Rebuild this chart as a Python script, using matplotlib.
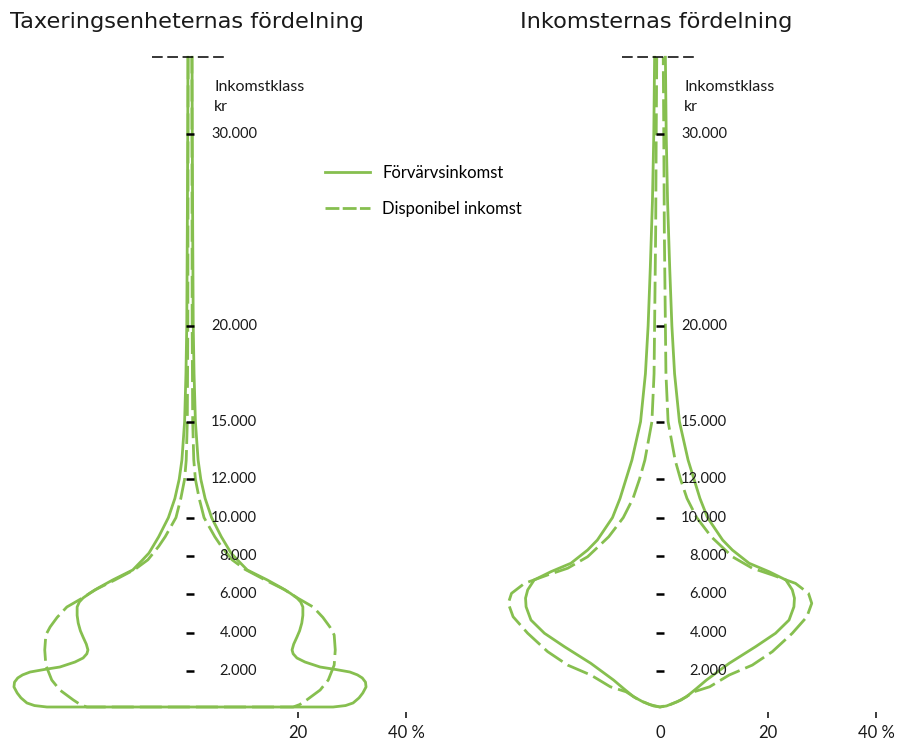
import matplotlib.pyplot as plt
from matplotlib.lines import Line2D

plt.rcParams['font.family'] = ['Lato', 'DejaVu Sans']

# Bildens mått i pixlar och skalor (uppmätta ur förlagan)
W, H = 908, 741
PX_PER_PCT = 5.4          # px per procentenhet
PX_PER_KR = 19.18 / 1000  # px per krona
ZERO_Y = 709.4            # 0 kr, px från överkanten
CENTERS = [190, 660]      # mittlinjer i px
GREEN = '#86bf4f'
INK = '#1a1a1a'

TITLES = ['Taxeringsenheternas fördelning', 'Inkomsternas fördelning']
TITLE_X = [10, 520]

INCOME_TICKS = [2000, 4000, 6000, 8000, 10000, 12000, 15000, 20000, 30000]
INCOME_LABELS = ['2.000', '4.000', '6.000', '8.000', '10.000', '12.000',
                 '15.000', '20.000', '30.000']
TOP_KR = 34000  # öppen övre klass

# Taxeringsenheternas fördelning: halva bredden i procent
tax_kr_forv = [125, 125, 200, 335, 600, 855, 1170, 1420, 1640, 1800, 1950,
               2080, 2210, 2470, 2680, 2900, 3100, 3400, 3770, 4100, 4500,
               4900, 5340, 5600, 5810, 6050, 6330, 6750, 7270, 7790, 8150,
               9000, 10000, 11000, 12000, 13000, 15000, 17500, 20000, 25000,
               30000, 34000]
tax_pct_forv = [0, 26.5, 28.8, 30.2, 31.3, 32.0, 32.6, 32.5, 31.9, 31.0, 29.6,
                27.0, 24.1, 21.3, 19.8, 19.1, 18.9, 19.2, 19.8, 20.3, 20.7,
                20.9, 20.9, 20.5, 19.8, 18.6, 17.0, 14.3, 10.6, 8.8, 7.6,
                5.8, 4.0, 2.8, 2.0, 1.5, 1.0, 0.75, 0.6, 0.5,
                0.42, 0.38]
tax_kr_disp = [125, 125, 250, 490, 1010, 1530, 2310, 3100, 3880, 4300, 4800,
               5340, 5810, 6230, 6750, 7300, 7800, 8500, 9000, 10000, 11000,
               12000, 13000, 15000, 20000, 25000, 30000, 34000]
tax_pct_disp = [0, 19.1, 20.3, 21.6, 24.1, 25.6, 26.7, 26.9, 26.7, 25.9, 24.6,
                22.8, 19.9, 17.6, 13.9, 10.2, 7.8, 5.8, 4.6, 2.6, 1.7,
                1.0, 0.7, 0.5, 0.4, 0.38, 0.36, 0.35]

# Inkomsternas fördelning
inc_kr_forv = [125, 180, 400, 660, 1100, 1530, 2400, 3270, 3970, 4660, 5350,
               5800, 6230, 6750, 7180, 7620, 8310, 8830, 10000, 11000, 12000,
               13000, 15000, 17500, 20000, 23000, 26500, 30000, 34000]
inc_pct_forv = [0, 1.2, 3.2, 4.9, 6.8, 8.6, 12.8, 17.7, 21.4, 23.9, 24.8,
                24.9, 24.5, 23.3, 20.2, 16.5, 13.4, 11.6, 8.8, 7.4, 6.3,
                5.2, 3.6, 2.7, 2.2, 1.8, 1.4, 1.15, 1.0]
inc_kr_disp = [125, 250, 490, 920, 1180, 1790, 2310, 3010, 3970, 4830, 5530,
               6050, 6570, 7010, 7360, 7960, 9000, 10000, 11000, 12000, 13000,
               15000, 17500, 20000, 25000, 30000, 34000]
inc_pct_disp = [0, 1.9, 3.9, 6.3, 9.2, 12.8, 17.1, 20.8, 24.5, 27.2, 28.1,
                27.5, 25.1, 20.8, 17.1, 13.4, 9.5, 6.8, 5.0, 3.8, 2.8,
                1.5, 1.1, 1.0, 0.8, 0.7, 0.6]

PANELS = [
    ((tax_kr_forv, tax_pct_forv), (tax_kr_disp, tax_pct_disp)),
    ((inc_kr_forv, inc_pct_forv), (inc_kr_disp, inc_pct_disp)),
]

DASH = (0, (7.9, 2.2))


def mirror(kr, pct):
    xs = [-p for p in pct[::-1]] + list(pct)
    ys = list(kr[::-1]) + list(kr)
    return xs, ys


fig = plt.figure(figsize=(W / 100, H / 100), dpi=100)

XLIM = (-35, 45)
y_low = -(H - ZERO_Y) / PX_PER_KR
y_high = ZERO_Y / PX_PER_KR

for i, (forv, disp) in enumerate(PANELS):
    c = CENTERS[i]
    left_px = c + XLIM[0] * PX_PER_PCT
    width_px = (XLIM[1] - XLIM[0]) * PX_PER_PCT
    ax = fig.add_axes([left_px / W, 0, width_px / W, 1])
    ax.set_xlim(*XLIM)
    ax.set_ylim(y_low, y_high)

    xs, ys = mirror(*forv)
    ax.plot(xs, ys, color=GREEN, lw=2.0, solid_joinstyle='round')
    xs, ys = mirror(*disp)
    ax.plot(xs, ys, color=GREEN, lw=2.0, linestyle=DASH)

    # öppen övre klass
    ax.plot([-7, 7], [TOP_KR, TOP_KR], color='black', lw=1.1,
            linestyle=(0, (7, 3)))

    # inkomstklasser
    ax.plot([0] * len(INCOME_TICKS), INCOME_TICKS, linestyle='none',
            marker='_', ms=6, mew=1.8, color='black', zorder=5)
    for t, lab in zip(INCOME_TICKS, INCOME_LABELS):
        ax.text(12.4, t, lab, ha='right', va='center', fontsize=10.5,
                color=INK)
    ax.text(4.5, 31950, 'Inkomstklass\nkr', ha='left', va='center',
            fontsize=11.5, linespacing=1.55, color=INK)

    # procentaxel
    for s in ax.spines.values():
        s.set_visible(False)
    ax.spines['bottom'].set_position(('data', -135))
    ax.set_yticks([])
    ax.set_xticks([20, 40])
    ax.set_xticklabels(['20', '40 %'])
    if i == 1:
        ax.set_xticks([0], minor=True)
        ax.set_xticklabels(['0'], minor=True)
        ax.tick_params(axis='x', which='minor', length=0, pad=9.5,
                       labelsize=12, labelcolor=INK)
    ax.tick_params(axis='x', which='major', direction='out', length=4.3,
                   width=1.2, pad=5, labelsize=12, colors=INK)

    fig.text(TITLE_X[i] / W, 1 - 22 / H, TITLES[i], ha='left', va='center',
             fontsize=16.2, color=INK, family='DejaVu Sans')

# teckenförklaring
handles = [Line2D([], [], color=GREEN, lw=2.0),
           Line2D([], [], color=GREEN, lw=2.0, linestyle=(0, (5, 1.2)))]
fig.legend(handles, ['Förvärvsinkomst', 'Disponibel inkomst'],
           loc='center left', bbox_to_anchor=(325 / W, 1 - 191 / H),
           frameon=False, fontsize=12, handlelength=2.7, handletextpad=0.75,
           labelspacing=1.2, borderpad=0, borderaxespad=0)

fig.savefig('out.png', dpi=100)
